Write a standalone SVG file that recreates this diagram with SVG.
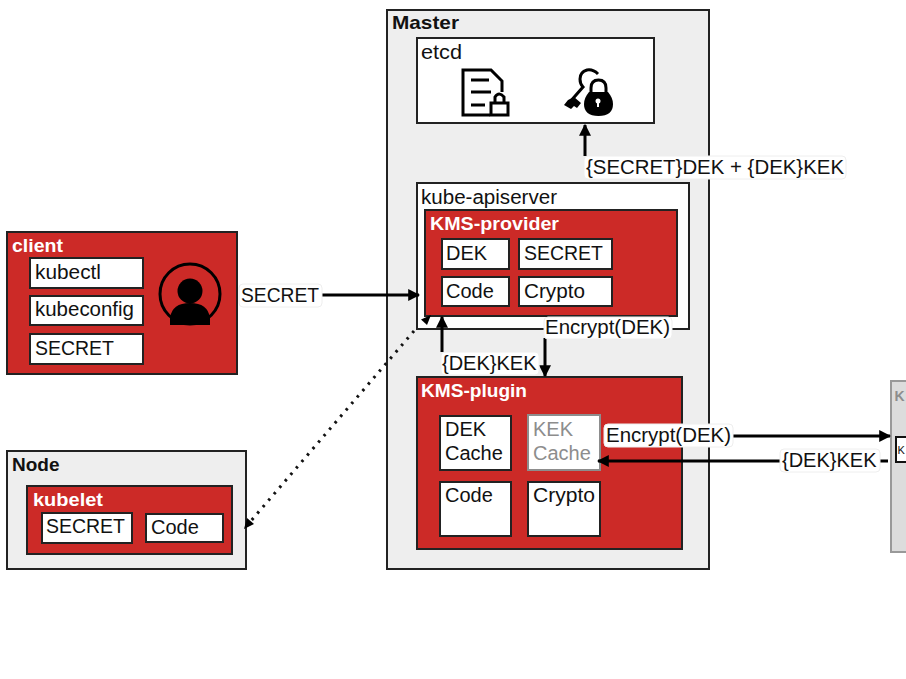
<svg xmlns="http://www.w3.org/2000/svg" width="906" height="679" viewBox="0 0 906 679">
<style>
text{font-family:"Liberation Sans","Noto Sans",sans-serif;font-size:20px;fill:#111}
.t{font-weight:700;font-size:18px;fill:#fff}
.h{font-weight:700;font-size:19px}
.grey{fill:#8d8d8d}
.panel{fill:#eeeeee;stroke:#222;stroke-width:2}
.red{fill:#cc2a27;stroke:#222;stroke-width:2}
.white{fill:#fff;stroke:#222;stroke-width:2}
.line{fill:none;stroke:#000;stroke-width:3}
.dot{fill:none;stroke:#111;stroke-width:3;stroke-dasharray:2.500 6}
.lab{fill:#fff;stroke:#eee;stroke-width:1}
.mono{fill:none;stroke:#000;stroke-width:3}
</style>
<defs>
<marker id="arr" viewBox="0 0 10 10" refX="9" refY="5" markerWidth="4" markerHeight="4" orient="auto-start-reverse" markerUnits="strokeWidth"><path d="M0 0L10 5L0 10Z" fill="#000"/></marker>
</defs>
<g id="master">
<rect class="panel" x="387" y="10" width="322" height="559"/>
<text class="h" x="392" y="29" textLength="67" lengthAdjust="spacingAndGlyphs">Master</text>
</g>
<g id="etcd">
<rect class="white" x="417" y="38" width="237" height="85"/>
<text x="421" y="59" textLength="41" lengthAdjust="spacingAndGlyphs">etcd</text>
<path class="mono" d="M490 115H463V70H491L502 81V92M471 80H489M471 92H491M471 105H485"/>
<rect class="mono" x="491" y="103" width="17" height="12"/>
<path class="mono" d="M495 103V97Q499 91 504 97V103" stroke-width="2.500"/>
<path class="mono" d="M598 74Q593 69 587 70Q580 72 580 79Q580 84 583 87L569 103" stroke-width="2.500"/>
<path d="M568 100L564 105L571 109L574 106L577 108L581 103L574 97Z" fill="#000"/>
<path class="mono" d="M591 95V88Q591 80 598.500 80Q606 80 606 88V95" stroke-width="4"/>
<path d="M589 92H608Q613 98 613 104Q613 116 598.500 116Q584 116 584 104Q584 98 589 92Z" fill="#000"/>
<circle cx="598" cy="101" r="2.500" fill="#fff"/><rect x="597" y="101" width="2" height="6" fill="#fff"/>
</g>
<g id="kube-apiserver">
<rect class="white" x="417" y="183" width="272" height="146"/>
<text x="421" y="204" textLength="136" lengthAdjust="spacingAndGlyphs">kube-apiserver</text>
</g>
<g id="kms-provider">
<rect class="red" x="425" y="210" width="252" height="106"/>
<text class="t" x="430" y="230" textLength="129" lengthAdjust="spacingAndGlyphs">KMS-provider</text>
<rect class="white" x="442" y="239" width="67" height="30"/><text x="446" y="260">DEK</text>
<rect class="white" x="519" y="239" width="93" height="30"/><text x="524" y="260" textLength="79" lengthAdjust="spacingAndGlyphs">SECRET</text>
<rect class="white" x="442" y="277" width="67" height="29"/><text x="446" y="298">Code</text>
<rect class="white" x="519" y="277" width="93" height="29"/><text x="524" y="298" textLength="61" lengthAdjust="spacingAndGlyphs">Crypto</text>
</g>
<g id="kms-plugin">
<rect class="red" x="417" y="377" width="265" height="172"/>
<text class="t" x="421" y="397" textLength="106" lengthAdjust="spacingAndGlyphs">KMS-plugin</text>
<rect class="white" x="440" y="416" width="71" height="54"/><text x="445" y="436">DEK</text><text x="445" y="460">Cache</text>
<rect x="528" y="415" width="72" height="55" fill="#fff" stroke="#8d8d8d" stroke-width="2"/><text class="grey" x="533" y="436">KEK</text><text class="grey" x="533" y="460">Cache</text>
<rect class="white" x="440" y="482" width="71" height="54"/><text x="445" y="502">Code</text>
<rect class="white" x="528" y="482" width="72" height="54"/><text x="533" y="502" textLength="62" lengthAdjust="spacingAndGlyphs">Crypto</text>
</g>
<g id="client">
<rect class="red" x="7" y="232" width="230" height="142"/>
<text class="t" x="12" y="252" textLength="51" lengthAdjust="spacingAndGlyphs">client</text>
<rect class="white" x="30" y="258" width="113" height="30"/><text x="35" y="279" textLength="66" lengthAdjust="spacingAndGlyphs">kubectl</text>
<rect class="white" x="30" y="296" width="113" height="29"/><text x="35" y="316" textLength="99" lengthAdjust="spacingAndGlyphs">kubeconfig</text>
<rect class="white" x="30" y="334" width="113" height="30"/><text x="35" y="355" textLength="79" lengthAdjust="spacingAndGlyphs">SECRET</text>
<circle cx="190" cy="294" r="30" fill="none" stroke="#000" stroke-width="3"/>
<circle cx="190" cy="291" r="12.500" fill="#000"/>
<path d="M170 325V318Q172 303 190 303Q208 303 210 318V325Z" fill="#000"/>
</g>
<g id="node">
<rect class="panel" x="7" y="451" width="239" height="118"/>
<text class="h" x="12" y="471">Node</text>
</g>
<g id="kubelet">
<rect class="red" x="27" y="486" width="205" height="68"/>
<text class="t" x="33" y="506" textLength="70" lengthAdjust="spacingAndGlyphs">kubelet</text>
<rect class="white" x="42" y="513" width="90" height="30"/><text x="46" y="533" textLength="79" lengthAdjust="spacingAndGlyphs">SECRET</text>
<rect class="white" x="146" y="514" width="77" height="28"/><text x="151" y="534">Code</text>
</g>
<g id="kms">
<rect x="891" y="381" width="20" height="171" fill="#dcdcdc" stroke="#999" stroke-width="2"/>
<text class="grey" x="894.500" y="401" style="font-size:14px;font-weight:700">K</text>
<rect x="896" y="437" width="20" height="25" fill="#fff" stroke="#111" stroke-width="2"/>
<text x="897.500" y="454" style="font-size:11px">K</text>
</g>
<g id="connectors">
<path class="line" d="M585 156V125" marker-end="url(#arr)"/>
<path class="line" d="M320 295H419" marker-end="url(#arr)"/>
<path class="line" d="M442 352V317" marker-end="url(#arr)"/>
<path class="line" d="M545 338V376" marker-end="url(#arr)"/>
<path class="line" d="M730 436H890" marker-end="url(#arr)"/>
<path class="line" d="M888 461H598" marker-end="url(#arr)"/>
<path class="dot" d="M414 331L250 522"/>
<path d="M431 315L421 319.500L427 325Z" fill="#000"/>
<path d="M244 529L247 518L254 524Z" fill="#000"/>
</g>
<g id="labels">
<rect class="lab" x="584" y="156" width="262" height="23" rx="4"/><text x="586" y="174" textLength="258" lengthAdjust="spacingAndGlyphs">{SECRET}DEK + {DEK}KEK</text>
<rect class="lab" x="239" y="284" width="83" height="23" rx="4"/><text x="241" y="302" textLength="78" lengthAdjust="spacingAndGlyphs">SECRET</text>
<rect class="lab" x="544" y="317" width="128" height="22" rx="4"/><text x="545" y="334" textLength="125" lengthAdjust="spacingAndGlyphs">Encrypt(DEK)</text>
<rect class="lab" x="441" y="352" width="98" height="23" rx="4"/><text x="442" y="370">{DEK}KEK</text>
<rect class="lab" x="604" y="424" width="129" height="23" rx="4"/><text x="606" y="442" textLength="125" lengthAdjust="spacingAndGlyphs">Encrypt(DEK)</text>
<rect class="lab" x="780" y="449" width="100" height="23" rx="4"/><text x="782" y="467">{DEK}KEK</text>
</g>
</svg>
